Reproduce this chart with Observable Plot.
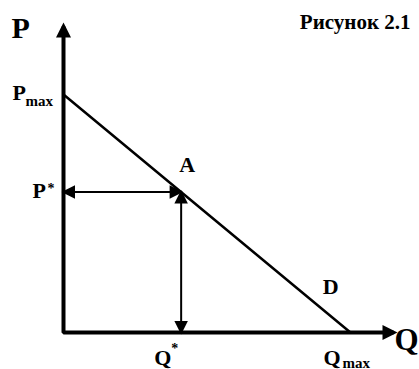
<!DOCTYPE html>
<html><head><meta charset="utf-8">
<script src="https://cdn.jsdelivr.net/npm/d3@7"></script>
<script src="https://cdn.jsdelivr.net/npm/@observablehq/plot@0.6"></script>
<style>body{margin:0;background:#fff}</style>
</head><body><div id="chart"></div>
<script>
// ---- data ----
const title = "Рисунок 2.1";
const demandQ = [0, 10];
const demandP = [10, 0];
const Pmax = 10, Qmax = 10;
const Pstar = 5.9, Qstar = 4.1;
const axisQEnd = 11.5, axisPEnd = 12.86;
const axisNames = ["P", "Q"];
const curveName = "D";
const pointName = "A";

const font = "'Liberation Serif', 'Times New Roman', serif";

function head(tip) {
  return {draw(ctx, size) {
    const r = Math.sqrt(size / Math.PI), L = 2.5 * r, W = 1.25 * r;
    ctx.moveTo(0, -tip); ctx.lineTo(W, L - tip); ctx.lineTo(-W, L - tip); ctx.closePath();
  }};
}

const demand = demandQ.map((q, i) => ({q, p: demandP[i]}));
const axisPath = [{q: 0, p: axisPEnd}, {q: 0, p: 0}, {q: axisQEnd, p: 0}];
const axisHeads = [{q: 0, p: axisPEnd, rot: 0}, {q: axisQEnd, p: 0, rot: 90}];
const innerHeads = [
  {q: 0, p: Pstar, rot: 270}, {q: Qstar, p: Pstar, rot: 90},
  {q: Qstar, p: 0, rot: 180}, {q: Qstar, p: Pstar, rot: 0}
];
const T = (t, q, p, size, dx, dy, anchor = "start") =>
  Plot.text([t], {x: () => q, y: () => p, text: d => d, fontSize: size, fontWeight: "bold",
    fontFamily: font, textAnchor: anchor, lineAnchor: "bottom", dx, dy, fill: "black"});

const chart = Plot.plot({
  width: 419, height: 369,
  marginLeft: 63, marginRight: 26, marginTop: 26, marginBottom: 37,
  x: {domain: [0, axisQEnd], axis: null},
  y: {domain: [0, axisPEnd], axis: null},
  style: {background: "white"},
  marks: [
    Plot.line(axisPath, {x: "q", y: "p", stroke: "black", strokeWidth: 4, strokeLinejoin: "miter", strokeLinecap: "butt"}),
    Plot.line(demand, {x: "q", y: "p", stroke: "black", strokeWidth: 2.5}),
    Plot.line([{q: 0, p: Pstar}, {q: Qstar, p: Pstar}], {x: "q", y: "p", stroke: "black", strokeWidth: 2}),
    Plot.line([{q: Qstar, p: 0}, {q: Qstar, p: Pstar}], {x: "q", y: "p", stroke: "black", strokeWidth: 2}),
    Plot.dot(axisHeads, {x: "q", y: "p", rotate: "rot", symbol: head(4), r: 6, fill: "black", stroke: null}),
    Plot.dot(innerHeads, {x: "q", y: "p", rotate: "rot", symbol: head(2), r: 5.4, fill: "black", stroke: null}),
    // labels
    T(axisNames[0], 0, axisPEnd, 30, -52, 11),
    T(axisNames[1], axisQEnd, 0, 31, 1, 17),
    T("P", 0, Pmax, 22, -51, 5),
    T("max", 0, Pmax, 15, -38, 11),
    T("P", 0, Pstar, 22, -31, 6),
    T("*", 0, Pstar, 14, -16, 1),
    T(pointName, Qstar, Pstar, 22, 6, -20, "middle"),
    T(curveName, 9, 1, 22, 9, -15, "middle"),
    T("Q", Qstar, 0, 22, -27, 32),
    T("*", Qstar, 0, 14, -10, 20),
    T("Q", Qmax, 0, 22, -27, 32),
    T("max", Qmax, 0, 15, -8, 35),
    Plot.text([title], {frameAnchor: "top-right", text: d => d, fontSize: 21, fontWeight: "bold",
      fontFamily: font, textAnchor: "end", lineAnchor: "bottom", dx: 17, dy: 2, fill: "black"})
  ]
});
document.getElementById("chart").append(chart);
</script></body></html>
